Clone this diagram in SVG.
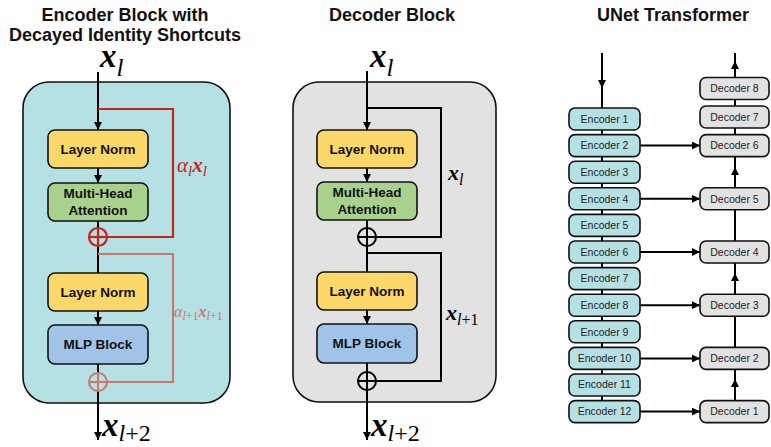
<svg xmlns="http://www.w3.org/2000/svg" width="771" height="447" viewBox="0 0 771 447">
<defs>
<marker id="ah" viewBox="0 0 10 10" refX="10" refY="5" markerWidth="9" markerHeight="8" markerUnits="userSpaceOnUse" orient="auto"><path d="M0,0 L10,5 L0,10 z" fill="#000"/></marker>
<style>
.title{font-family:"Liberation Sans",Arial,sans-serif;font-weight:bold;font-size:18px;text-anchor:middle;fill:#111}
.bt{font-family:"Liberation Sans",Arial,sans-serif;font-weight:bold;font-size:13.5px;text-anchor:middle;fill:#111}
.nt{font-family:"Liberation Sans",Arial,sans-serif;font-size:10.5px;text-anchor:middle;fill:#222}
.box{stroke:#111;stroke-width:1.6}
.ln{fill:#fcd86a}.mha{fill:#a9d18e}.mlp{fill:#9fc4e7}
.enc{fill:#b6e1e4;stroke:#111;stroke-width:1.6}
.dec{fill:#e2e2e2;stroke:#111;stroke-width:1.6}
.w{stroke:#000;stroke-width:2;fill:none}
.arr{stroke:#000;stroke-width:2;fill:none;marker-end:url(#ah)}
.mid{stroke:#000;stroke-width:2;fill:none;marker-mid:url(#ah)}
.red{stroke:#c1251b;stroke-width:2.2;fill:none}
.pink{stroke:#cc766e;stroke-width:2;fill:none}
.mx{font-family:"Liberation Serif","Times New Roman",serif;font-style:italic;font-weight:bold}
.ms{font-family:"Liberation Serif","Times New Roman",serif;font-style:italic;font-weight:normal}
.mr{font-family:"Liberation Serif","Times New Roman",serif;font-style:normal;font-weight:normal}
</style>
</defs>
<rect width="771" height="447" fill="#fff"/>

<!-- titles -->
<text class="title" x="125" y="21">Encoder Block with</text>
<text class="title" x="125" y="41">Decayed Identity Shortcuts</text>
<text class="title" x="392" y="21">Decoder Block</text>
<text class="title" x="673" y="21">UNet Transformer</text>

<!-- panel backgrounds -->
<g id="encoder-block">
<rect x="23" y="82" width="207" height="321" rx="26" fill="#b6e1e4" stroke="#111" stroke-width="1.6"/>
</g>
<g id="decoder-block">
<rect x="293" y="82" width="203" height="320" rx="26" fill="#e2e2e2" stroke="#111" stroke-width="1.6"/>
</g>

<!-- connectors -->
<g id="connectors">
<!-- encoder block -->
<line class="arr" x1="98" y1="72" x2="98" y2="130"/>
<line class="arr" x1="98" y1="168" x2="98" y2="183"/>
<line class="w" x1="98" y1="221" x2="98" y2="228"/>
<line class="w" x1="98" y1="246" x2="98" y2="273"/>
<line class="arr" x1="98" y1="311" x2="98" y2="325"/>
<line class="w" x1="98" y1="364" x2="98" y2="373"/>
<line class="arr" x1="98" y1="391" x2="98" y2="440"/>
<polyline class="red" points="98,109 173,109 173,237 107,237"/>
<polyline class="pink" points="98,254 173,254 173,382 107,382"/>
<!-- decoder block -->
<line class="arr" x1="367" y1="71" x2="367" y2="130"/>
<line class="arr" x1="367" y1="168" x2="367" y2="182"/>
<line class="w" x1="367" y1="220" x2="367" y2="228"/>
<line class="w" x1="367" y1="246" x2="367" y2="272"/>
<line class="arr" x1="367" y1="310" x2="367" y2="324"/>
<line class="w" x1="367" y1="363" x2="367" y2="372"/>
<line class="arr" x1="367" y1="390" x2="367" y2="440"/>
<polyline class="w" points="367,108 441,108 441,237 376,237"/>
<polyline class="w" points="367,253 441,253 441,381 376,381"/>
<!-- UNet encoder column -->
<path class="mid" d="M602,53 L602,88 L602,108"/>
<line class="w" x1="602" y1="130" x2="602" y2="411"/>
<!-- UNet decoder column -->
<path class="mid" d="M735,400 L735,379 L735,369"/>
<line class="w" x1="735" y1="369" x2="735" y2="293"/>
<path class="mid" d="M735,293 L735,273 L735,262"/>
<line class="w" x1="735" y1="262" x2="735" y2="187"/>
<path class="mid" d="M735,187 L735,167 L735,157"/>
<path class="mid" d="M735,78 L735,61 L735,53"/>
<line class="w" x1="735" y1="157" x2="735" y2="78"/>
<!-- skip connections -->
<line class="arr" x1="640" y1="145.6" x2="700" y2="145.6"/>
<line class="arr" x1="640" y1="198.8" x2="700" y2="198.8"/>
<line class="arr" x1="640" y1="252" x2="700" y2="252"/>
<line class="arr" x1="640" y1="305.2" x2="700" y2="305.2"/>
<line class="arr" x1="640" y1="358.4" x2="700" y2="358.4"/>
<line class="arr" x1="640" y1="411.6" x2="700" y2="411.6"/>
</g>

<!-- encoder block nodes -->
<g id="enc-ln1"><rect class="box ln" x="48" y="130" width="100" height="38" rx="7"/><text class="bt" x="98" y="154">Layer Norm</text></g>
<g id="enc-mha"><rect class="box mha" x="48" y="183" width="100" height="38" rx="7"/><text class="bt" x="98" y="198">Multi-Head</text><text class="bt" x="98" y="215">Attention</text></g>
<g id="enc-ln2"><rect class="box ln" x="48" y="273" width="100" height="38" rx="7"/><text class="bt" x="98" y="297">Layer Norm</text></g>
<g id="enc-mlp"><rect class="box mlp" x="48" y="325" width="100" height="39" rx="7"/><text class="bt" x="98" y="349">MLP Block</text></g>
<g id="enc-add1" class="red"><circle cx="98" cy="237" r="9"/><line x1="89" y1="237" x2="107" y2="237"/><line x1="98" y1="228" x2="98" y2="246"/></g>
<g id="enc-add2" class="pink"><circle cx="98" cy="382" r="9"/><line x1="89" y1="382" x2="107" y2="382"/><line x1="98" y1="373" x2="98" y2="391"/></g>

<!-- decoder block nodes -->
<g id="dec-ln1"><rect class="box ln" x="317" y="130" width="100" height="38" rx="7"/><text class="bt" x="367" y="154">Layer Norm</text></g>
<g id="dec-mha"><rect class="box mha" x="317" y="182" width="100" height="38" rx="7"/><text class="bt" x="367" y="197">Multi-Head</text><text class="bt" x="367" y="214">Attention</text></g>
<g id="dec-ln2"><rect class="box ln" x="317" y="272" width="100" height="38" rx="7"/><text class="bt" x="367" y="296">Layer Norm</text></g>
<g id="dec-mlp"><rect class="box mlp" x="317" y="324" width="100" height="39" rx="7"/><text class="bt" x="367" y="348">MLP Block</text></g>
<g id="dec-add1" class="w"><circle cx="367" cy="237" r="9"/><line x1="358" y1="237" x2="376" y2="237"/><line x1="367" y1="228" x2="367" y2="246"/></g>
<g id="dec-add2" class="w"><circle cx="367" cy="381" r="9"/><line x1="358" y1="381" x2="376" y2="381"/><line x1="367" y1="372" x2="367" y2="390"/></g>

<!-- math labels -->
<g id="labels">
<text x="100" y="67"><tspan class="mx" font-size="33">x</tspan><tspan class="ms" font-size="25" dy="9">l</tspan></text>
<text x="102" y="436"><tspan class="mx" font-size="33">x</tspan><tspan class="mr" font-size="24" dy="5"><tspan class="ms">l</tspan>+2</tspan></text>
<text x="370" y="67"><tspan class="mx" font-size="33">x</tspan><tspan class="ms" font-size="25" dy="9">l</tspan></text>
<text x="371" y="436"><tspan class="mx" font-size="33">x</tspan><tspan class="mr" font-size="24" dy="5"><tspan class="ms">l</tspan>+2</tspan></text>
<text x="177" y="172" fill="#c1251b"><tspan class="ms" font-size="21">α</tspan><tspan class="ms" font-size="15" dy="4">l</tspan><tspan class="mx" font-size="21" dy="-4">x</tspan><tspan class="ms" font-size="15" dy="4">l</tspan></text>
<text x="174" y="317" fill="#cc766e"><tspan class="ms" font-size="16">α</tspan><tspan class="mr" font-size="12" dy="3"><tspan class="ms">l</tspan>+1</tspan><tspan class="mx" font-size="16" dy="-3">x</tspan><tspan class="mr" font-size="12" dy="3"><tspan class="ms">l</tspan>+1</tspan></text>
<text x="448" y="180"><tspan class="mx" font-size="22">x</tspan><tspan class="ms" font-size="16" dy="5">l</tspan></text>
<text x="446" y="320"><tspan class="mx" font-size="22">x</tspan><tspan class="mr" font-size="16" dy="5"><tspan class="ms">l</tspan>+1</tspan></text>
</g>

<!-- UNet encoders -->
<g id="enc1"><rect class="enc" x="569" y="108" width="71" height="22" rx="6"/><text class="nt" x="604.5" y="122.8">Encoder 1</text></g>
<g id="enc2"><rect class="enc" x="569" y="134.6" width="71" height="22" rx="6"/><text class="nt" x="604.5" y="149.4">Encoder 2</text></g>
<g id="enc3"><rect class="enc" x="569" y="161.2" width="71" height="22" rx="6"/><text class="nt" x="604.5" y="176">Encoder 3</text></g>
<g id="enc4"><rect class="enc" x="569" y="187.8" width="71" height="22" rx="6"/><text class="nt" x="604.5" y="202.6">Encoder 4</text></g>
<g id="enc5"><rect class="enc" x="569" y="214.4" width="71" height="22" rx="6"/><text class="nt" x="604.5" y="229.2">Encoder 5</text></g>
<g id="enc6"><rect class="enc" x="569" y="241" width="71" height="22" rx="6"/><text class="nt" x="604.5" y="255.8">Encoder 6</text></g>
<g id="enc7"><rect class="enc" x="569" y="267.6" width="71" height="22" rx="6"/><text class="nt" x="604.5" y="282.4">Encoder 7</text></g>
<g id="enc8"><rect class="enc" x="569" y="294.2" width="71" height="22" rx="6"/><text class="nt" x="604.5" y="309">Encoder 8</text></g>
<g id="enc9"><rect class="enc" x="569" y="320.8" width="71" height="22" rx="6"/><text class="nt" x="604.5" y="335.6">Encoder 9</text></g>
<g id="enc10"><rect class="enc" x="569" y="347.4" width="71" height="22" rx="6"/><text class="nt" x="604.5" y="361.6">Encoder 10</text></g>
<g id="enc11"><rect class="enc" x="569" y="374" width="71" height="22" rx="6"/><text class="nt" x="604.5" y="388.2">Encoder 11</text></g>
<g id="enc12"><rect class="enc" x="569" y="400.6" width="71" height="22" rx="6"/><text class="nt" x="604.5" y="414.8">Encoder 12</text></g>

<!-- UNet decoders -->
<g id="dec8"><rect class="dec" x="700" y="77.5" width="69" height="22" rx="6"/><text class="nt" x="734.5" y="92.3">Decoder 8</text></g>
<g id="dec7"><rect class="dec" x="700" y="106" width="69" height="22" rx="6"/><text class="nt" x="734.5" y="120.8">Decoder 7</text></g>
<g id="dec6"><rect class="dec" x="700" y="134.6" width="69" height="22" rx="6"/><text class="nt" x="734.5" y="149.4">Decoder 6</text></g>
<g id="dec5"><rect class="dec" x="700" y="187.8" width="69" height="22" rx="6"/><text class="nt" x="734.5" y="202.6">Decoder 5</text></g>
<g id="dec4"><rect class="dec" x="700" y="241" width="69" height="22" rx="6"/><text class="nt" x="734.5" y="255.8">Decoder 4</text></g>
<g id="dec3"><rect class="dec" x="700" y="294.2" width="69" height="22" rx="6"/><text class="nt" x="734.5" y="309">Decoder 3</text></g>
<g id="dec2"><rect class="dec" x="700" y="347.4" width="69" height="22" rx="6"/><text class="nt" x="734.5" y="362.2">Decoder 2</text></g>
<g id="dec1"><rect class="dec" x="700" y="400.6" width="69" height="22" rx="6"/><text class="nt" x="734.5" y="415.4">Decoder 1</text></g>
</svg>
